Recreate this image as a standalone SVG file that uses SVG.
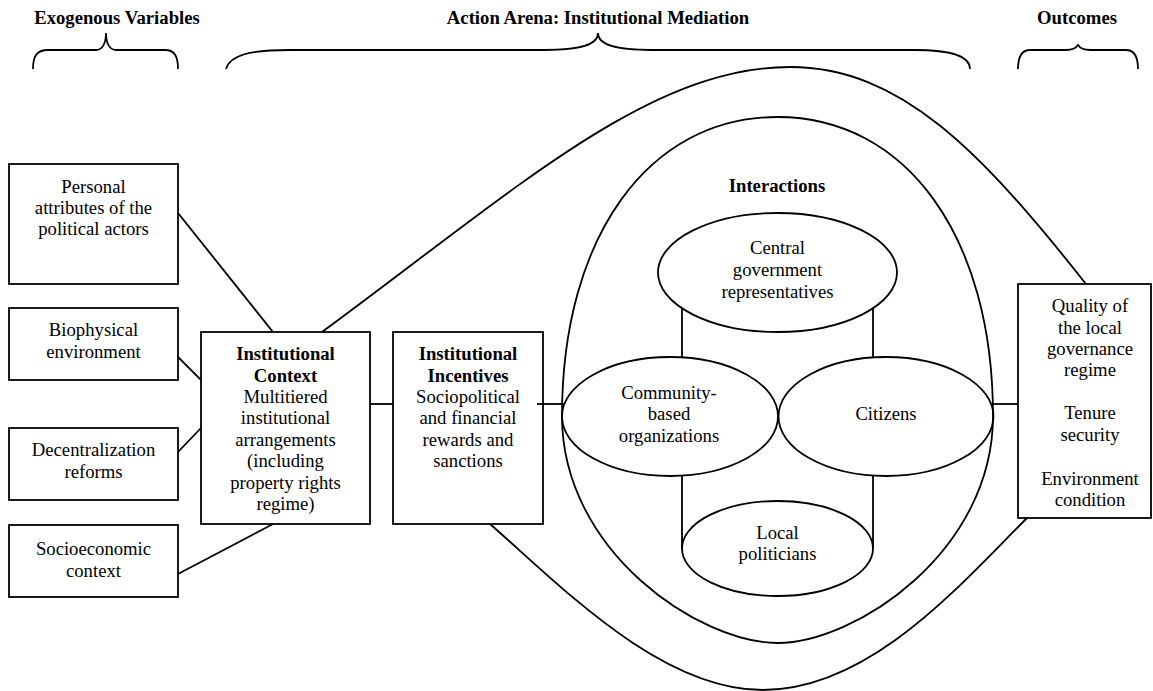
<svg xmlns="http://www.w3.org/2000/svg" width="1153" height="691" viewBox="0 0 1153 691">
  <style>
    .ln { fill: none; stroke: #000; stroke-width: 1.8; }
    .box { fill: #fff; stroke: #000; stroke-width: 1.8; }
    .ell { fill: none; stroke: #000; stroke-width: 1.8; }
    text { font-family: "Liberation Serif", "Times New Roman", serif; font-size: 18.7px; fill: #000; text-anchor: middle; }
    .b { font-weight: bold; }
  </style>
  <rect width="1153" height="691" fill="#fff"/>

  <!-- Section headings with braces -->
  <g id="heading-exogenous">
    <text class="b" x="117" y="24">Exogenous Variables</text>
    <path class="ln" d="M33,69 C33,57 36,50 48,50 L96,50 C102,50 106,44 106,33 C106,44 110,50 116,50 L165,50 C175,50 178,57 178,69"/>
  </g>
  <g id="heading-arena">
    <text class="b" x="598" y="24">Action Arena: Institutional Mediation</text>
    <path class="ln" d="M226,69 C230,55 250,50 290,50 L545,50 C580,50 598,45 598,33 C598,45 616,50 651,50 L915,50 C955,50 970,57 970,69"/>
  </g>
  <g id="heading-outcomes">
    <text class="b" x="1077" y="24">Outcomes</text>
    <path class="ln" d="M1018,69 C1018,57 1021,50 1030,50 L1066,50 C1072,50 1076,48 1078,45 C1080,48 1084,50 1090,50 L1126,50 C1135,50 1138,57 1138,69"/>
  </g>

  <!-- Connectors -->
  <g id="connectors">
    <!-- outer arena envelope -->
    <path class="ln" d="M322,332 C520,186 650,67 790,67 C900,67 980,150 1086,284"/>
    <path class="ln" d="M490,524 C560,585 660,690 763,690 C870,690 960,585 1027,518"/>
    <!-- exogenous variables into institutional context -->
    <line class="ln" x1="178" y1="213" x2="273" y2="332"/>
    <line class="ln" x1="178" y1="357" x2="201" y2="380"/>
    <line class="ln" x1="178" y1="452" x2="201" y2="428"/>
    <line class="ln" x1="178" y1="574" x2="273" y2="524"/>
    <!-- horizontal chain -->
    <line class="ln" x1="370" y1="404" x2="393" y2="404"/>
    <line class="ln" x1="537" y1="404" x2="564" y2="404"/>
    <line class="ln" x1="991" y1="404" x2="1018" y2="404"/>
    <!-- links between actors -->
    <line class="ln" x1="682" y1="308" x2="682" y2="357"/>
    <line class="ln" x1="873" y1="308" x2="873" y2="357"/>
    <line class="ln" x1="682" y1="476" x2="682" y2="548.5"/>
    <line class="ln" x1="873" y1="476" x2="873" y2="548.5"/>
  </g>

  <!-- Exogenous variable boxes -->
  <g id="personal-attributes">
    <rect class="box" x="9" y="164" width="169" height="120"/>
    <text x="93.5" y="193">Personal</text>
    <text x="93.5" y="214">attributes of the</text>
    <text x="93.5" y="235">political actors</text>
  </g>
  <g id="biophysical-environment">
    <rect class="box" x="9" y="308" width="169" height="72"/>
    <text x="93.5" y="336">Biophysical</text>
    <text x="93.5" y="358">environment</text>
  </g>
  <g id="decentralization-reforms">
    <rect class="box" x="9" y="428" width="169" height="72"/>
    <text x="93.5" y="456">Decentralization</text>
    <text x="93.5" y="478">reforms</text>
  </g>
  <g id="socioeconomic-context">
    <rect class="box" x="9" y="525" width="169" height="72"/>
    <text x="93.5" y="555">Socioeconomic</text>
    <text x="93.5" y="577">context</text>
  </g>

  <!-- Institutional context -->
  <g id="institutional-context">
    <rect class="box" x="201" y="332" width="169" height="192"/>
    <text class="b" x="285.5" y="360">Institutional</text>
    <text class="b" x="285.5" y="382">Context</text>
    <text x="285.5" y="403">Multitiered</text>
    <text x="285.5" y="424">institutional</text>
    <text x="285.5" y="446">arrangements</text>
    <text x="285.5" y="467">(including</text>
    <text x="285.5" y="489">property rights</text>
    <text x="285.5" y="510">regime)</text>
  </g>

  <!-- Institutional incentives -->
  <g id="institutional-incentives">
    <rect class="box" x="393" y="332" width="150" height="192"/>
    <line class="ln" x1="537" y1="404" x2="543" y2="404"/>
    <text class="b" x="468" y="360">Institutional</text>
    <text class="b" x="468" y="382">Incentives</text>
    <text x="468" y="403">Sociopolitical</text>
    <text x="468" y="424">and financial</text>
    <text x="468" y="446">rewards and</text>
    <text x="468" y="467">sanctions</text>
  </g>

  <!-- Interactions arena -->
  <g id="interactions">
    <path class="ln" d="M562,416 C562,237 648.5,117 777.5,117 C906.5,117 993,237 993,416 C993,552 855,643 777.5,643 C700,643 562,552 562,416 Z"/>
    <text class="b" x="777" y="192">Interactions</text>
  </g>
  <g id="central-government">
    <ellipse class="ell" cx="777.5" cy="272.5" rx="119.5" ry="59.5"/>
    <text x="777.5" y="254">Central</text>
    <text x="777.5" y="276">government</text>
    <text x="777.5" y="298">representatives</text>
  </g>
  <g id="community-organizations">
    <ellipse class="ell" cx="670" cy="416.5" rx="108" ry="59.5"/>
    <text x="669" y="399">Community-</text>
    <text x="669" y="420">based</text>
    <text x="669" y="442">organizations</text>
  </g>
  <g id="citizens">
    <ellipse class="ell" cx="886" cy="416.5" rx="107.5" ry="59.5"/>
    <text x="886" y="420">Citizens</text>
  </g>
  <g id="local-politicians">
    <ellipse class="ell" cx="777.5" cy="548.5" rx="95.5" ry="47.5"/>
    <text x="777.5" y="539">Local</text>
    <text x="777.5" y="560">politicians</text>
  </g>

  <!-- Outcomes -->
  <g id="outcomes">
    <rect class="box" x="1018" y="284" width="133" height="234"/>
    <text x="1090" y="312">Quality of</text>
    <text x="1090" y="334">the local</text>
    <text x="1090" y="355">governance</text>
    <text x="1090" y="376">regime</text>
    <text x="1090" y="419">Tenure</text>
    <text x="1090" y="441">security</text>
    <text x="1090" y="485">Environment</text>
    <text x="1090" y="506">condition</text>
  </g>
</svg>
